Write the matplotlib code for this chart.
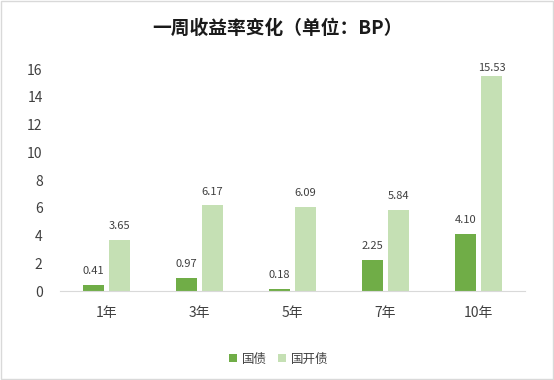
import numpy as np
import matplotlib.pyplot as plt
from matplotlib.patches import Rectangle

plt.rcParams['font.family'] = ['Noto Sans CJK SC', 'DejaVu Sans']

categories = ['1年', '3年', '5年', '7年', '10年']
guozhai = [0.41, 0.97, 0.18, 2.25, 4.10]
guokaizhai = [3.65, 6.17, 6.09, 5.84, 15.53]

fig = plt.figure(figsize=(5.54, 3.8), dpi=100)
ax = fig.add_axes([0.1083, 0.2342, 0.8394, 0.5837])

x = np.arange(len(categories))
w = 0.226
off = 0.14
b1 = ax.bar(x - off, guozhai, w, color='#70AD47', label='国债')
b2 = ax.bar(x + off, guokaizhai, w, color='#C5E0B4', label='国开债')

ax.set_xlim(-0.5, len(categories) - 0.5)
ax.set_ylim(0, 16)

# 标签放在柱顶上方约11像素，最高的不超出绘图区
gap = 0.79
ceil = 15.87
for bars, vals in ((b1, guozhai), (b2, guokaizhai)):
    for r, v in zip(bars, vals):
        ax.text(r.get_x() + r.get_width() / 2, min(v + gap, ceil), '%.2f' % v,
                ha='center', va='baseline', fontsize=8, color='#404040')

ax.set_yticks(range(0, 17, 2))
ax.set_xticks(x)
ax.set_xticklabels(categories)
for s in ['top', 'right', 'left']:
    ax.spines[s].set_visible(False)
ax.spines['bottom'].set_color('#D9D9D9')
ax.tick_params(axis='both', length=0, labelsize=10, colors='#404040')
ax.tick_params(axis='x', pad=11)
ax.tick_params(axis='y', pad=12.5)

fig.text(0.5, 0.924, '一周收益率变化（单位：BP）', ha='center', va='center',
         fontsize=13.5, fontweight='bold', color='#1a1a1a')

fig.legend(loc='center', bbox_to_anchor=(0.503, 0.055), ncol=2, frameon=False,
           fontsize=9, handlelength=0.65, handleheight=0.65, columnspacing=0.9,
           handletextpad=0.4, labelcolor='#404040')

fig.patches.append(Rectangle((0.001, 0.002), 0.997, 0.996, transform=fig.transFigure,
                             fill=False, edgecolor='#D9D9D9', linewidth=1))

fig.savefig('out.png', dpi=100)
